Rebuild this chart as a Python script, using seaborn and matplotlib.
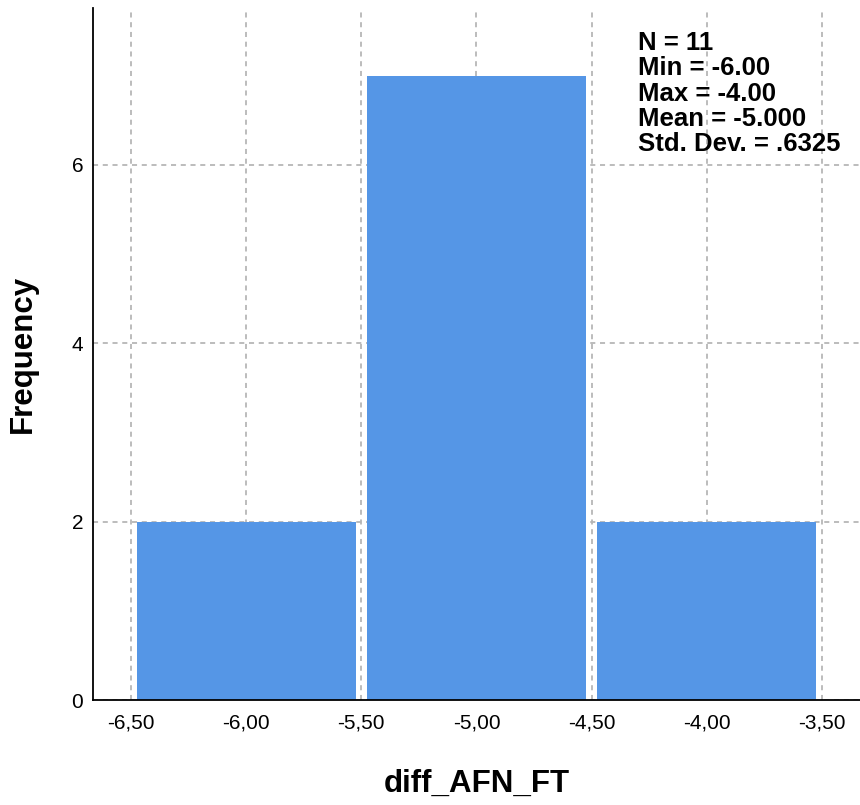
import matplotlib
matplotlib.use("Agg")
import matplotlib.pyplot as plt
import seaborn as sns
import pandas as pd

# Observed differences and their counts
values = [-6.0, -5.0, -4.0]
counts = [2, 7, 2]
bin_edges = [-6.5, -5.5, -4.5, -3.5]
x_ticks = [-6.5, -6.0, -5.5, -5.0, -4.5, -4.0, -3.5]
x_tick_labels = ["-6,50", "-6,00", "-5,50", "-5,00", "-4,50", "-4,00", "-3,50"]
y_ticks = [0, 2, 4, 6]
y_tick_labels = ["0", "2", "4", "6"]
stats_lines = ["N = 11", "Min = -6.00", "Max = -4.00", "Mean = -5.000", "Std. Dev. = .6325"]

sns.set_theme(style="white")
plt.rcParams["font.family"] = ["Liberation Sans", "DejaVu Sans"]

df = pd.DataFrame({"diff_AFN_FT": values, "n": counts})

fig = plt.figure(figsize=(8.6, 8.05), dpi=100)
ax = fig.add_axes([0.1081, 0.1304, 0.8919, 0.8600])

sns.histplot(data=df, x="diff_AFN_FT", weights="n", bins=bin_edges,
             shrink=0.952, color="#5596e6", alpha=1, edgecolor="none",
             linewidth=0, ax=ax, zorder=2)

ax.set_xlim(-6.665, -3.335)
ax.set_ylim(0, 7.76)
ax.set_xticks(x_ticks)
ax.set_xticklabels(x_tick_labels)
ax.set_yticks(y_ticks)
ax.set_yticklabels(y_tick_labels)
ax.tick_params(axis="both", length=0, labelsize=15, colors="black")
ax.tick_params(axis="x", pad=10)
ax.tick_params(axis="y", pad=7)

ax.set_axisbelow(True)
ax.grid(True, which="major", axis="both", linestyle=(0, (2.8, 2.6)),
        color="#b6b6b6", linewidth=1.3)

for side in ("top", "right"):
    ax.spines[side].set_visible(False)
for side in ("left", "bottom"):
    ax.spines[side].set_color("black")
    ax.spines[side].set_linewidth(1.3)

ax.set_xlabel("diff_AFN_FT", fontsize=22.5, fontweight="bold", labelpad=26,
              color="black")
ax.set_ylabel("Frequency", fontsize=22.5, fontweight="bold", labelpad=24,
              color="black")

ax.text(0.7106, 0.966, "\n".join(stats_lines), transform=ax.transAxes,
        ha="left", va="top", fontsize=18.5, fontweight="bold",
        linespacing=1.06, color="black", zorder=5)

fig.savefig("out.png", dpi=100)
